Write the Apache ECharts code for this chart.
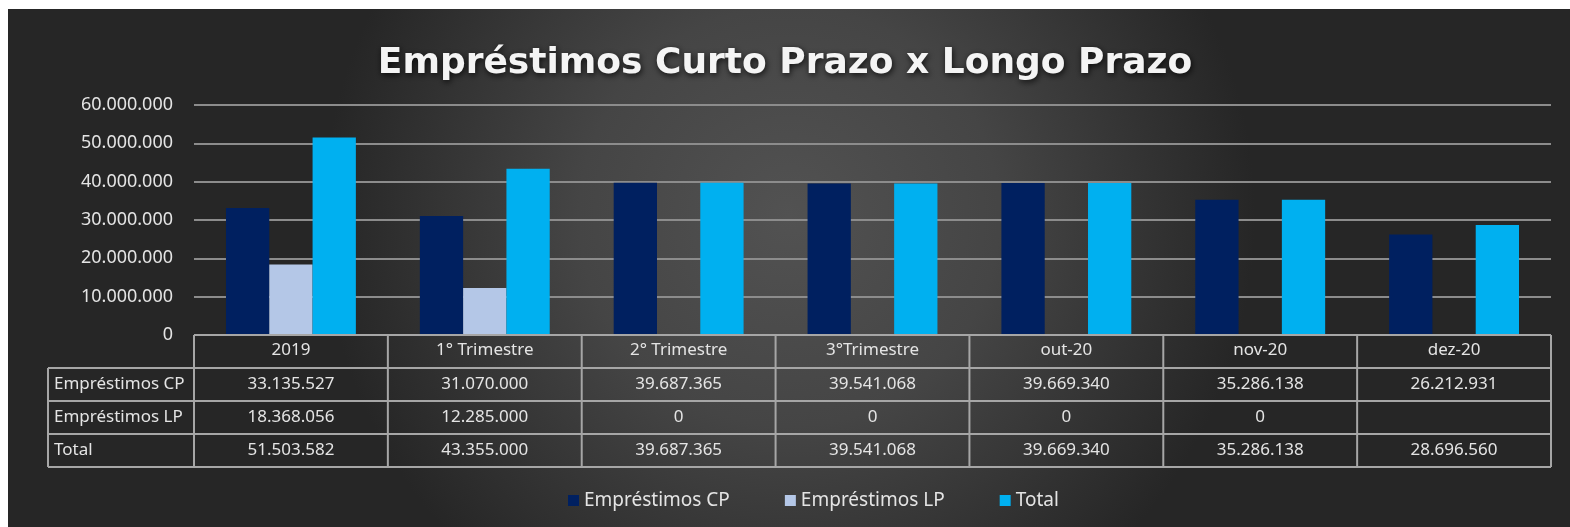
<!DOCTYPE html>
<html>
<head>
<meta charset="utf-8">
<script src="https://cdn.jsdelivr.net/npm/echarts@6/dist/echarts.min.js"></script>
<style>
  html, body { margin: 0; padding: 0; background: #fff; }
  #chart { width: 1570px; height: 527px; }
</style>
</head>
<body>
<div id="chart"></div>
<script>
// dados da planilha
var categorias = ['2019', '1° Trimestre', '2° Trimestre', '3°Trimestre', 'out-20', 'nov-20', 'dez-20'];
var emprestimosCP = [33135527, 31070000, 39687365, 39541068, 39669340, 35286138, 26212931];
var emprestimosLP = [18368056, 12285000, 0, 0, 0, 0, null];
var total = [51503582, 43355000, 39687365, 39541068, 39669340, 35286138, 28696560];
var nomesSeries = ['Empréstimos CP', 'Empréstimos LP', 'Total'];
var cores = ['#002060', '#B4C7E7', '#00B0F0'];

var fonte = '"Noto Sans", "Open Sans", sans-serif';
var corTexto = '#e4e4e4';
var corLinha = '#a6a6a6';

// 12345678 -> 12.345.678
function formata(n) {
  if (n === null || n === undefined) return '';
  return String(n).replace(/\B(?=(\d{3})+(?!\d))/g, '.');
}

var chart = echarts.init(document.getElementById('chart'));

var option = {
  backgroundColor: '#ffffff',
  animation: false,
  title: {
    text: 'Empréstimos Curto Prazo x Longo Prazo',
    left: 'center',
    top: 41,
    textStyle: {
      color: '#f4f4f4',
      fontFamily: '"DejaVu Sans", sans-serif',
      fontWeight: 'bold',
      fontSize: 36,
      textShadowColor: 'rgba(0,0,0,0.8)',
      textShadowBlur: 6,
      textShadowOffsetX: 1,
      textShadowOffsetY: 2
    }
  },
  legend: {
    data: nomesSeries,
    bottom: 12,
    left: 563,
    icon: 'rect',
    itemWidth: 11,
    itemHeight: 11,
    itemGap: 55,
    textStyle: { color: corTexto, fontFamily: fonte, fontSize: 19 }
  },
  grid: { left: 194, right: 19, top: 105, bottom: 192 },
  xAxis: {
    type: 'category',
    data: categorias,
    axisLine: { show: false },
    axisTick: { show: false },
    axisLabel: { color: corTexto, fontFamily: fonte, fontSize: 17, margin: 7 }
  },
  yAxis: {
    type: 'value',
    min: 0,
    max: 60000000,
    interval: 10000000,
    axisLine: { show: false },
    axisTick: { show: false },
    axisLabel: { color: corTexto, fontFamily: fonte, fontSize: 18, margin: 21, formatter: formata },
    splitLine: { lineStyle: { color: '#8c8c8c', width: 2 } }
  },
  series: [
    { name: nomesSeries[0], type: 'bar', data: emprestimosCP, itemStyle: { color: cores[0] }, barGap: '0%', barCategoryGap: '33%' },
    { name: nomesSeries[1], type: 'bar', data: emprestimosLP, itemStyle: { color: cores[1] } },
    { name: nomesSeries[2], type: 'bar', data: total, itemStyle: { color: cores[2] } }
  ]
};
chart.setOption(option);

// fundo escuro com degradê + tabela de dados abaixo do gráfico
var x0 = chart.convertToPixel({ xAxisIndex: 0 }, 0);
var x1 = chart.convertToPixel({ xAxisIndex: 0 }, 1);
var banda = x1 - x0;
var esq = x0 - banda / 2;
var dir = esq + banda * categorias.length;
var y0 = chart.convertToPixel({ yAxisIndex: 0 }, 0);
var alt = 33;
var colRotulo = 48;
var linhas = [
  [nomesSeries[0], emprestimosCP],
  [nomesSeries[1], emprestimosLP],
  [nomesSeries[2], total]
];

var g = [{
  type: 'rect',
  z: -100,
  silent: true,
  shape: { x: 8, y: 9, width: 1570 - 8, height: 527 - 9 },
  style: {
    fill: {
      type: 'radial', x: 0.5, y: 0.4, r: 0.9,
      colorStops: [
        { offset: 0, color: '#525252' },
        { offset: 0.45, color: '#454545' },
        { offset: 1, color: '#262626' }
      ]
    }
  }
}];

function linha(xa, ya, xb, yb) {
  g.push({
    type: 'line', z: 50, silent: true,
    shape: { x1: xa, y1: ya, x2: xb, y2: yb },
    style: { stroke: corLinha, lineWidth: 2 }
  });
}

var base = y0 + alt * 4;
linha(esq, y0, dir, y0);
for (var r = 1; r <= 4; r++) linha(colRotulo, y0 + alt * r, dir, y0 + alt * r);
linha(colRotulo, y0 + alt, colRotulo, base);
for (var c = 0; c <= categorias.length; c++) linha(esq + banda * c, y0, esq + banda * c, base);

linhas.forEach(function (l, i) {
  var yc = y0 + alt * (i + 1) + alt / 2;
  g.push({
    type: 'text', z: 60, silent: true, x: colRotulo + 6, y: yc,
    style: { text: l[0], fill: corTexto, font: '17px ' + fonte, textAlign: 'left', textVerticalAlign: 'middle' }
  });
  l[1].forEach(function (v, j) {
    g.push({
      type: 'text', z: 60, silent: true, x: esq + banda * (j + 0.5), y: yc,
      style: { text: formata(v), fill: corTexto, font: '17px ' + fonte, textAlign: 'center', textVerticalAlign: 'middle' }
    });
  });
});

chart.setOption({ graphic: g });
</script>
</body>
</html>
